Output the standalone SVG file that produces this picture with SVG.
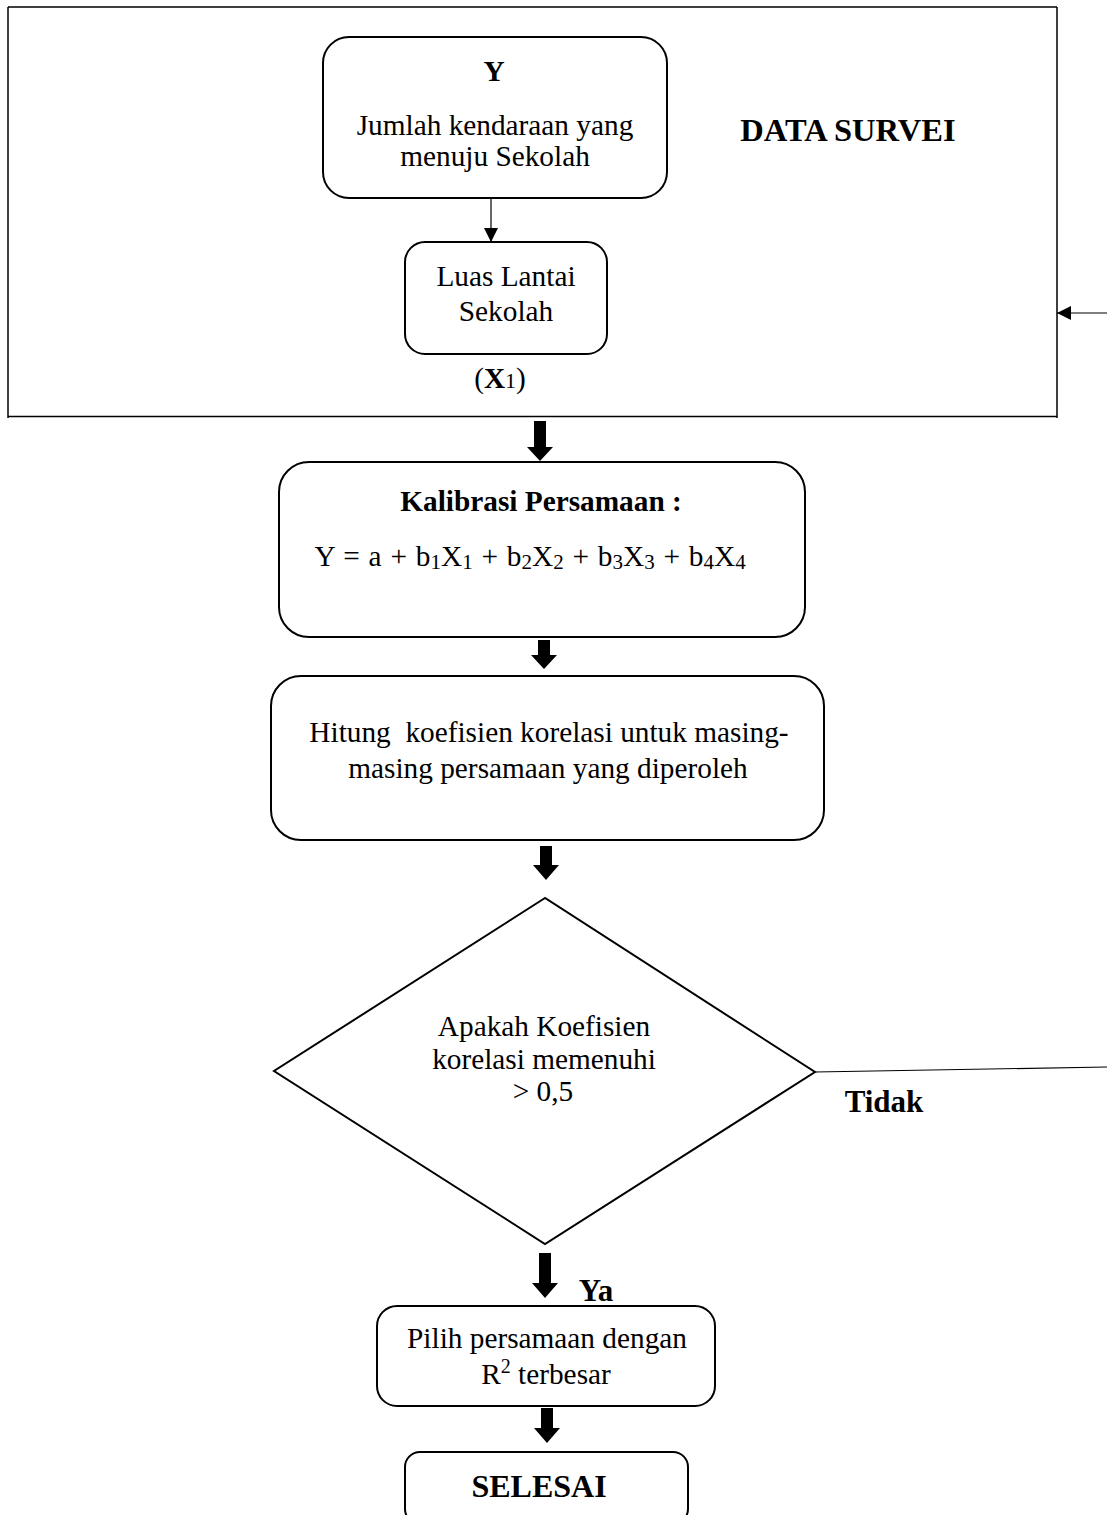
<svg xmlns="http://www.w3.org/2000/svg" width="1107" height="1515" viewBox="0 0 1107 1515">
<style>
text{font-family:"Liberation Serif","Times New Roman",serif;font-size:29.3px;fill:#000;text-anchor:middle}
.b{font-weight:bold}
.box{fill:#fff;stroke:#000;stroke-width:2}
.frame{fill:none;stroke:#000;stroke-width:1.5}
.thin{fill:none;stroke:#000;stroke-width:1.2}
.big{fill:#000;stroke:none}
.sub{font-size:21px}
</style>
<defs>
<marker id="ah" viewBox="0 0 10 10" refX="10" refY="5" markerWidth="15" markerHeight="14" markerUnits="userSpaceOnUse" orient="auto">
<path d="M0,0 L10,5 L0,10 z" fill="#000"/>
</marker>
</defs>
<rect width="1107" height="1515" fill="#fff"/>

<g id="frame">
<path class="frame" d="M8,7 H1057 M8,7 V418 M1057,7 V418 M8,416.5 H1057"/>
<text class="b" x="848" y="141" style="font-size:32.5px">DATA SURVEI</text>
</g>

<g id="node-y">
<rect class="box" x="323" y="37" width="344" height="161" rx="26"/>
<text class="b" x="494" y="81">Y</text>
<text x="495" y="135">Jumlah kendaraan yang</text>
<text x="495" y="166">menuju Sekolah</text>
</g>

<g id="node-luas">
<rect class="box" x="405" y="242" width="202" height="112" rx="20"/>
<text x="506" y="286">Luas Lantai</text>
<text x="506" y="321">Sekolah</text>
<text x="500" y="388"><tspan>(</tspan><tspan class="b">X</tspan><tspan style="font-size:22px">1</tspan><tspan>)</tspan></text>
</g>

<g id="node-kalibrasi">
<rect class="box" x="279" y="462" width="526" height="175" rx="30"/>
<text class="b" x="541" y="511">Kalibrasi Persamaan :</text>
<text x="530" y="566" style="word-spacing:1.5px">Y = a + b<tspan class="sub" dy="3">1</tspan><tspan dy="-3">X</tspan><tspan class="sub" dy="3">1</tspan><tspan dy="-3"> + b</tspan><tspan class="sub" dy="3">2</tspan><tspan dy="-3">X</tspan><tspan class="sub" dy="3">2</tspan><tspan dy="-3"> + b</tspan><tspan class="sub" dy="3">3</tspan><tspan dy="-3">X</tspan><tspan class="sub" dy="3">3</tspan><tspan dy="-3"> + b</tspan><tspan class="sub" dy="3">4</tspan><tspan dy="-3">X</tspan><tspan class="sub" dy="3">4</tspan></text>
</g>

<g id="node-hitung">
<rect class="box" x="271" y="676" width="553" height="164" rx="30"/>
<text x="549" y="742" style="white-space:pre">Hitung  koefisien korelasi untuk masing-</text>
<text x="548" y="778">masing persamaan yang diperoleh</text>
</g>

<g id="node-decision">
<polygon class="box" points="545,898 274,1071 545,1244 815,1072"/>
<text x="544" y="1036">Apakah Koefisien</text>
<text x="544" y="1069">korelasi memenuhi</text>
<text x="543" y="1101">&gt; 0,5</text>
</g>

<g id="node-pilih">
<rect class="box" x="377" y="1306" width="338" height="100" rx="20"/>
<text x="547" y="1348">Pilih persamaan dengan</text>
<text x="546" y="1384">R<tspan style="font-size:20px" dy="-11">2</tspan><tspan dy="11"> terbesar</tspan></text>
</g>

<g id="node-selesai">
<rect class="box" x="405" y="1452" width="283" height="72" rx="15"/>
<text class="b" x="539" y="1497" style="font-size:32px">SELESAI</text>
</g>

<g id="connectors">
<line class="thin" x1="491" y1="198" x2="491" y2="242" marker-end="url(#ah)"/>
<line class="thin" x1="815" y1="1072" x2="1107" y2="1067"/>
<line class="thin" x1="1107" y1="313" x2="1057" y2="313" marker-end="url(#ah)"/>
<polygon class="big" points="534,421 546,421 546,447 553,447 540,461 527,447 534,447"/>
<polygon class="big" points="538,640 550,640 550,655 557,655 544,669 531,655 538,655"/>
<polygon class="big" points="540,846 552,846 552,865 559,865 546,880 533,865 540,865"/>
<polygon class="big" points="539,1253 551,1253 551,1283 558,1283 545,1298 532,1283 539,1283"/>
<polygon class="big" points="541,1408 553,1408 553,1428 560,1428 547,1443 534,1428 541,1428"/>
<text class="b" x="596" y="1301" style="font-size:31px">Ya</text>
<text class="b" x="884" y="1112" style="font-size:31px">Tidak</text>
</g>
</svg>
